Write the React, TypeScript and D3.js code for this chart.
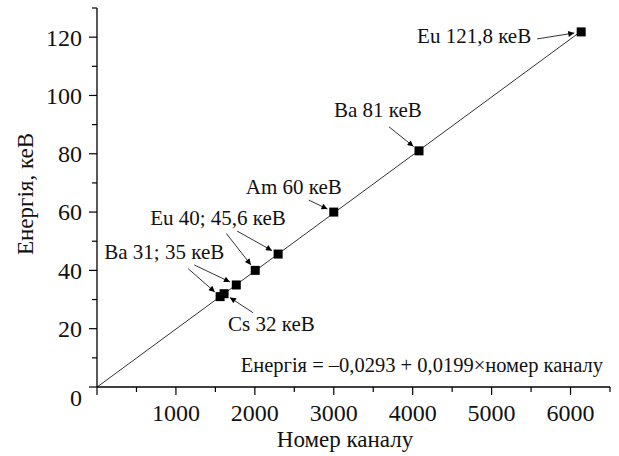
import React from "react";
import * as d3 from "d3";

// Calibration points: channel number vs. gamma-line energy (keV)
const channels = [1560, 1610, 1765, 2005, 2295, 3000, 4080, 6135];
const energies = [31, 32, 35, 40, 45.6, 60, 81, 121.8];

// Linear fit: E = a + b * channel
const fitIntercept = -0.0293;
const fitSlope = 0.0199;

const xTickValues = [1000, 2000, 3000, 4000, 5000, 6000];
const yTickValues = [0, 20, 40, 60, 80, 100, 120];

// Callout texts and the point indices each one refers to
const calloutTexts = [
  "Eu 121,8 кеВ",
  "Ba 81 кеВ",
  "Am 60 кеВ",
  "Eu 40; 45,6 кеВ",
  "Ba 31; 35 кеВ",
  "Cs 32 кеВ",
];
const calloutTargets = [[7], [6], [5], [4, 3], [2, 0], [1]];

// Layout of callouts, in pixels relative to the first target marker
const calloutLayout = [
  { dx: -50, dy: 11, anchor: "end", tails: [[-44, 7]] },
  { dx: -85, dy: -34, anchor: "start", tails: [[-30, -24]] },
  { dx: -88, dy: -18, anchor: "start", tails: [[-25, -12]] },
  { dx: -128, dy: -29, anchor: "start", tails: [[-41, -23], [-29, -37]] },
  { dx: -132, dy: -26, anchor: "start", tails: [[-42, -20], [-32, -28]] },
  { dx: 4, dy: 37, anchor: "start", tails: [[29, 19]] },
];

const W = 619;
const H = 456;
const FONT = "Times New Roman, Liberation Serif, Tinos, DejaVu Serif, serif";

export default function App() {
  const x = d3.scaleLinear().domain([0, 6500]).range([97, 610]);
  const y = d3.scaleLinear().domain([0, 130]).range([387, 8]);

  const xMinor = d3.range(0, 6501, 500);
  const yMinor = d3.range(0, 131, 10);

  const lastCh = channels[channels.length - 1];
  const fitLine = d3
    .line<number>()
    .x((c) => x(c))
    .y((c) => y(fitIntercept + fitSlope * c))([0, lastCh]);

  const pts = channels.map((c, i) => [x(c), y(energies[i])]);
  const gap = 7;

  return (
    <div style={{ fontFamily: FONT }}>
      <svg
        width={W}
        height={H}
        fontFamily={FONT}
        style={{ position: "absolute", left: 0, top: 0, background: "#fff", fontFamily: FONT }}
      >
        <defs>
          <marker
            id="arrowhead"
            viewBox="0 0 10 10"
            refX="10"
            refY="5"
            markerWidth="9"
            markerHeight="6"
            markerUnits="userSpaceOnUse"
            orient="auto"
          >
            <path d="M0,0 L10,5 L0,10 Z" fill="#000" />
          </marker>
        </defs>

        {/* fit line */}
        <path d={fitLine ?? ""} fill="none" stroke="#333" strokeWidth={1} />

        {/* calibration markers */}
        {pts.map(([px, py], i) => (
          <rect key={i} x={px - 4.5} y={py - 4.5} width={9} height={9} fill="#000" />
        ))}

        {/* callouts */}
        {calloutTexts.map((t, k) => {
          const lay = calloutLayout[k];
          const [bx, by] = pts[calloutTargets[k][0]];
          return (
            <g key={k}>
              {calloutTargets[k].map((idx, j) => {
                const [tx, ty] = pts[idx];
                const [ox, oy] = lay.tails[j];
                const sx = tx + ox;
                const sy = ty + oy;
                const len = Math.hypot(tx - sx, ty - sy);
                const ex = tx - ((tx - sx) / len) * gap;
                const ey = ty - ((ty - sy) / len) * gap;
                return (
                  <line
                    key={j}
                    x1={sx}
                    y1={sy}
                    x2={ex}
                    y2={ey}
                    stroke="#000"
                    strokeWidth={0.8}
                    markerEnd="url(#arrowhead)"
                  />
                );
              })}
              <text x={bx + lay.dx} y={by + lay.dy} textAnchor={lay.anchor} fontSize={21} fill="#111">
                {t}
              </text>
            </g>
          );
        })}

        {/* fit equation */}
        <text x={603} y={372} textAnchor="end" fontSize={20.5} fill="#111">
          Енергія = –0,0293 + 0,0199×номер каналу
        </text>

        {/* axes */}
        <line x1={x(0)} x2={x(6500)} y1={y(0)} y2={y(0)} stroke="#000" strokeWidth={1.3} />
        <line x1={x(0)} x2={x(0)} y1={y(0)} y2={y(130)} stroke="#000" strokeWidth={1.3} />

        {xMinor.map((v) => (
          <line
            key={"xm" + v}
            x1={x(v)}
            x2={x(v)}
            y1={y(0)}
            y2={y(0) + (v % 1000 === 0 ? 8 : 5)}
            stroke="#000"
            strokeWidth={1.2}
          />
        ))}
        {yMinor.map((v) => (
          <line
            key={"ym" + v}
            x1={x(0)}
            x2={x(0) - (v % 20 === 0 ? 8 : 5)}
            y1={y(v)}
            y2={y(v)}
            stroke="#000"
            strokeWidth={1.2}
          />
        ))}

        {xTickValues.map((v) => (
          <text key={"xt" + v} x={x(v)} y={421} textAnchor="middle" fontSize={24} fill="#111">
            {v}
          </text>
        ))}
        {yTickValues.map((v) => (
          <text
            key={"yt" + v}
            x={82}
            y={y(v) + (v === 0 ? 11 : 0)}
            dy="0.35em"
            textAnchor="end"
            fontSize={24}
            fill="#111"
          >
            {v}
          </text>
        ))}

        <text x={345} y={447} textAnchor="middle" fontSize={23} fill="#111">
          Номер каналу
        </text>
        <text transform={`translate(33, 194) rotate(-90)`} textAnchor="middle" fontSize={23} fill="#111">
          Енергія, кеВ
        </text>
      </svg>
    </div>
  );
}
